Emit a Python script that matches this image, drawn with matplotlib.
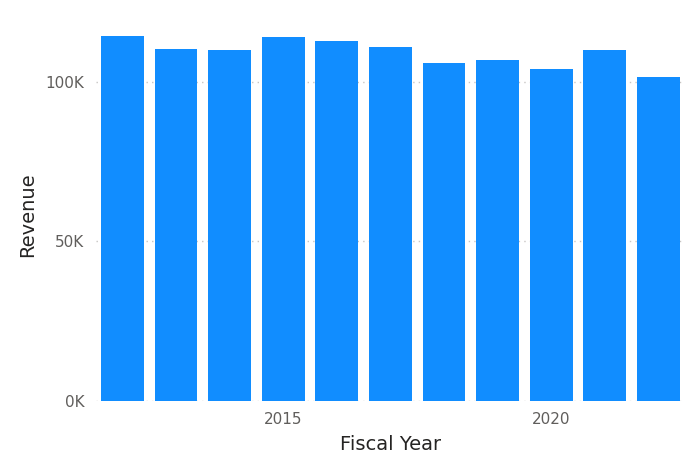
import matplotlib.pyplot as plt
from matplotlib.ticker import FuncFormatter

years = [2012, 2013, 2014, 2015, 2016, 2017, 2018, 2019, 2020, 2021, 2022]
revenue = [114400, 110200, 109900, 114000, 112700, 111000,
           105800, 106700, 104000, 109900, 101400]
year_ticks = [2015, 2020]
rev_ticks = [0, 50000, 100000]


def k_fmt(v, pos):
    return "{:d}K".format(int(round(v / 1000)))


def main():
    fig = plt.figure(figsize=(6.88, 4.57), dpi=100)
    ax = fig.add_axes([0.139, 0.123, 0.857, 0.8155])

    ax.bar(years, revenue, width=0.8, color="#118DFF", zorder=2)

    ax.set_xlim(years[0] - 0.5, years[-1] + 0.5)
    ax.set_ylim(0, 116800)
    ax.set_xticks(year_ticks)
    ax.set_yticks(rev_ticks)
    ax.yaxis.set_major_formatter(FuncFormatter(k_fmt))

    ax.grid(axis="y", color="#C8C6C4", linestyle=(0, (1, 3)), linewidth=1, zorder=0)
    for s in ax.spines.values():
        s.set_visible(False)
    ax.tick_params(length=0, labelsize=11, labelcolor="#605E5C")
    ax.tick_params(axis="y", pad=8)
    ax.tick_params(axis="x", pad=8)

    ax.set_xlabel("Fiscal Year", fontsize=14, color="#252423", labelpad=6)
    ax.set_ylabel("Revenue", fontsize=14, color="#252423", labelpad=6)

    fig.savefig("out.png", dpi=100)


if __name__ == "__main__":
    main()
